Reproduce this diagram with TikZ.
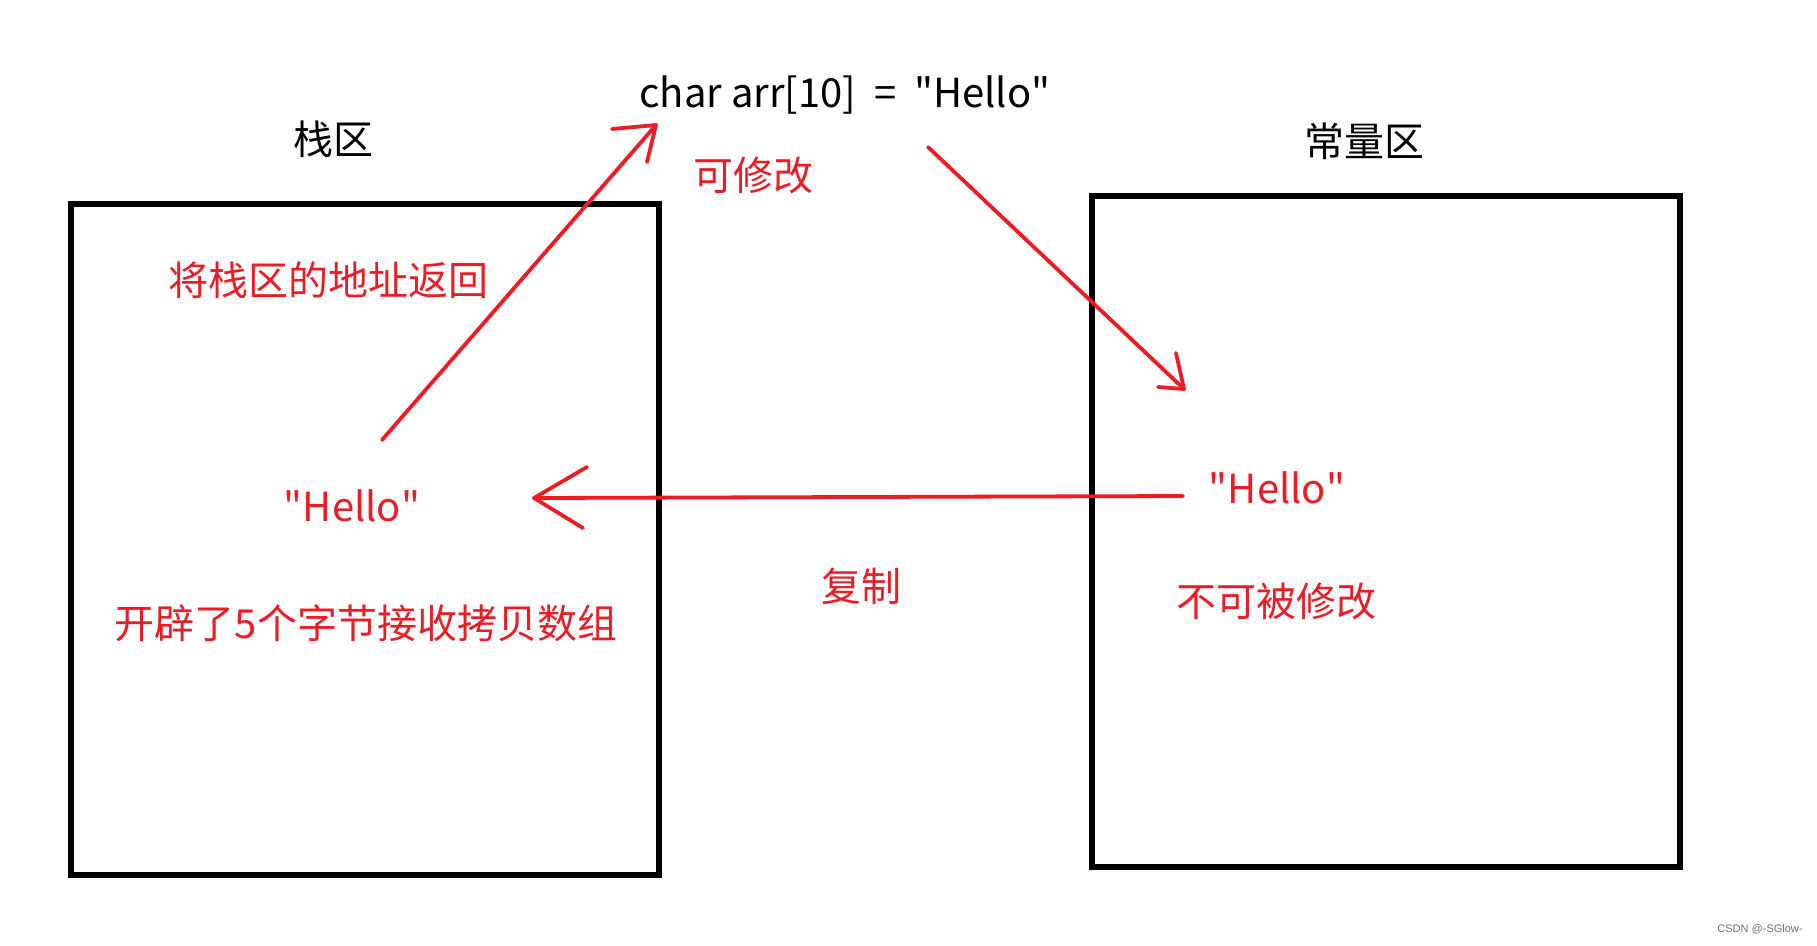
\documentclass[tikz,border=0pt]{standalone}
\usepackage{fontspec}
\setmainfont{Noto Sans CJK SC}
\newfontfamily\wmfont{Liberation Sans}
\definecolor{pen}{RGB}{237,28,36}
\newcommand{\sq}{\XeTeXglyph\XeTeXcharglyph"22\relax}
\begin{document}
\begin{tikzpicture}[x=1pt,y=-1pt,
  box/.style={draw=black, line width=5.4pt, minimum width=588pt, minimum height=671pt, inner sep=0},
  redline/.style={draw=pen, line width=3.8pt, line cap=round, line join=round},
  lbl/.style={font=\fontsize{40}{48}\selectfont, inner sep=0, anchor=center},
  redlbl/.style={lbl, text=pen}]
\fill[white] (0,0) rectangle (1817,945);
\useasboundingbox (0,0) rectangle (1817,945);

% boxes
\node[box] (stack) at (365,539.5) {};
\node[box] (const) at (1386,531.5) {};

% texts
\node[lbl] (code) at (845,95) {char arr[10] \ = \ \sq Hello\sq};
\node[lbl] (stacktitle) at (333,139) {栈区};
\node[lbl] (consttitle) at (1364,141) {常量区};
\node[redlbl] (modok) at (753,175) {可修改};
\node[redlbl] (ret) at (328,280) {将栈区的地址返回};
\node[redlbl] (hello1) at (352,506) {\sq Hello\sq};
\node[redlbl] (alloc) at (366,623) {开辟了5个字节接收拷贝数组};
\node[redlbl] (hello2) at (1277,488) {\sq Hello\sq};
\node[redlbl] (copy) at (861,586) {复制};
\node[redlbl] (nomod) at (1276,601) {不可被修改};
\node[font=\wmfont\fontsize{11}{13}\selectfont, text=black!55, inner sep=0] (wm) at (1760,929) {CSDN @-SGlow-};

% arrow 1: return address
\coordinate (a1s) at (382,440);
\coordinate (a1t) at (656,125);
\coordinate (a1b1) at (612,129);
\coordinate (a1b2) at (647,162);
\draw[redline] (a1s) -- (a1t);
\draw[redline] (a1b1) -- (a1t) -- (a1b2);

% arrow 2: to constant area
\coordinate (a2s) at (928,147);
\coordinate (a2t) at (1184,389);
\coordinate (a2b1) at (1158,387);
\coordinate (a2b2) at (1176,353);
\draw[redline] (a2s) -- (a2t);
\draw[redline] (a2b1) -- (a2t) -- (a2b2);

% arrow 3: copy
\coordinate (a3s) at (1183,496);
\coordinate (a3t) at (534,498);
\coordinate (a3b1) at (587,467);
\coordinate (a3b2) at (583,528);
\draw[redline] (a3s) -- (a3t);
\draw[redline] (a3b1) -- (a3t) -- (a3b2);
\end{tikzpicture}
\end{document}
